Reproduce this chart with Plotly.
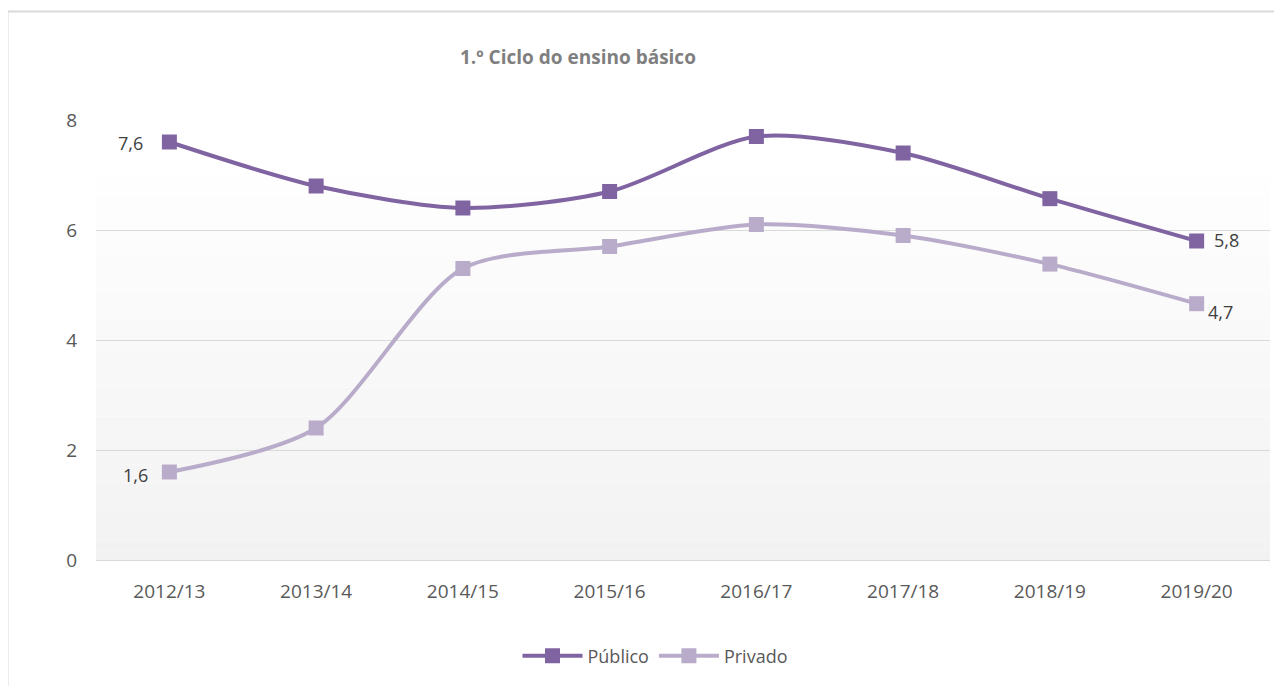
import plotly.graph_objects as go

categories = ["2012/13", "2013/14", "2014/15", "2015/16", "2016/17", "2017/18", "2018/19", "2019/20"]
publico = [7.6, 6.8, 6.4, 6.7, 7.7, 7.4, 6.57, 5.8]
privado = [1.6, 2.4, 5.3, 5.7, 6.1, 5.9, 5.38, 4.66]
title_text = "1.º Ciclo do ensino básico"

# page has an 8px body margin; work in reference pixel coordinates
OFF = 8
W, H = 1282 - OFF, 686 - OFF
L, R, T, B = 96 - OFF, 12, 120 - OFF, 686 - 560
pw, ph = W - L - R, H - T - B

def px_x(p):
    return (p - OFF - L) / pw

def px_y(p):
    return (H - B - (p - OFF)) / ph

def fmt(v):
    return f"{v:.1f}".replace(".", ",")

FONT = "Open Sans"
C_PUB = "#8064A2"
C_PRI = "#B9ACCB"

fig = go.Figure()

fig.add_trace(go.Scatter(
    x=categories, y=publico, name="Público", mode="lines+markers",
    line=dict(color=C_PUB, width=4, shape="spline", smoothing=0.8),
    marker=dict(symbol="square", size=15, color=C_PUB),
))
fig.add_trace(go.Scatter(
    x=categories, y=privado, name="Privado", mode="lines+markers",
    line=dict(color=C_PRI, width=4, shape="spline", smoothing=0.8),
    marker=dict(symbol="square", size=15, color=C_PRI),
))

label_font = dict(family=FONT, size=18, color="#404040")
annotations = [
    dict(x=categories[0], y=publico[0], text=fmt(publico[0]), xshift=-39, yshift=-1),
    dict(x=categories[-1], y=publico[-1], text=fmt(publico[-1]), xshift=30, yshift=1),
    dict(x=categories[0], y=privado[0], text=fmt(privado[0]), xshift=-34, yshift=-3),
    dict(x=categories[-1], y=privado[-1], text=fmt(privado[-1]), xshift=24, yshift=-8),
]
for a in annotations:
    a.update(xref="x", yref="y", showarrow=False, xanchor="center", yanchor="middle", font=label_font)
annotations.append(dict(text="<b>" + title_text + "</b>", xref="paper", yref="paper",
                        x=px_x(578), y=px_y(57), xanchor="center", yanchor="middle",
                        showarrow=False, font=dict(family=FONT, size=19, color="#7f7f7f")))

shapes = []
# gradient background
n = 40
top = 6.96
for i in range(n):
    y0 = top * i / n
    y1 = top * (i + 1) / n
    t = (i + 0.5) / n
    c = int(round(242 + (254 - 242) * t))
    shapes.append(dict(type="rect", xref="paper", yref="y", x0=0, x1=1, y0=y0, y1=y1,
                       fillcolor=f"rgb({c},{c},{c})", line=dict(width=0), layer="below"))
# chart border
shapes.append(dict(type="rect", xref="paper", yref="paper",
                   x0=px_x(7.5), x1=px_x(1300), y0=px_y(710), y1=px_y(11.5),
                   line=dict(color="#d9d9d9", width=2), fillcolor="rgba(0,0,0,0)"))

fig.update_layout(
    width=W, height=H,
    margin=dict(l=L, r=R, t=T, b=B, pad=0),
    paper_bgcolor="white", plot_bgcolor="rgba(0,0,0,0)",
    separators=",.",
    font=dict(family=FONT, size=18, color="#595959"),
    shapes=shapes,
    annotations=annotations,
    showlegend=True,
    legend=dict(orientation="h", x=px_x(655), xanchor="center", y=px_y(656), yanchor="middle",
                font=dict(family=FONT, size=18, color="#595959"), itemwidth=60,
                bgcolor="rgba(0,0,0,0)"),
    xaxis=dict(type="category", range=[-0.5, 7.5], showgrid=False, zeroline=False,
               showline=True, linecolor="#d9d9d9", linewidth=1, ticks="",
               ticklabelstandoff=14, tickfont=dict(family=FONT, size=19, color="#595959")),
    yaxis=dict(range=[0, 8], tickvals=[0, 2, 4, 6, 8], showgrid=True, gridcolor="#d9d9d9",
               gridwidth=1, zeroline=False, showline=False, ticks="",
               ticklabelstandoff=18, tickfont=dict(family=FONT, size=19, color="#595959")),
)

fig.write_html("out.html")
